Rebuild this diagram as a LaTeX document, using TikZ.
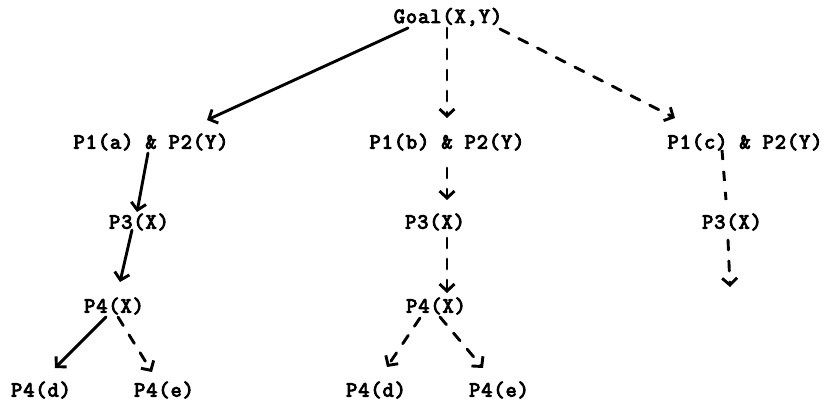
\documentclass[tikz,border=0pt]{standalone}
\usepackage{fontspec}
\usetikzlibrary{arrows.meta,calc}
\newfontfamily\treefont[LetterSpace=5, FakeBold=4.5]{Latin Modern Mono}
\tikzset{
  term/.style={font=\treefont\fontsize{21.5}{24}\selectfont, inner sep=1pt, text=black},
  solidarc/.style={draw=black, line width=2.9pt, line cap=round, -{Straight Barb[length=7pt,width=15pt,line width=2.9pt]}},
  dasharc/.style={solidarc, dash pattern=on 10pt off 11pt},
  dashplain/.style={draw=black, line width=2.9pt, dash pattern=on 10pt off 11pt}
}
\begin{document}
\begin{tikzpicture}[x=1pt,y=-1pt]
  \useasboundingbox (0,0) rectangle (824,401);
  % goal and its three alternative clauses
  \node[term] (g)  at (448,17)  {Goal(X,Y)};
  \node[term] (pa) at (151,142) {P1(a) \& P2(Y)};
  \node[term] (pb) at (447,142) {P1(b) \& P2(Y)};
  \node[term] (pc) at (745,142) {P1(c) \& P2(Y)};
  % second level
  \node[term] (p3a) at (139,222) {P3(X)};
  \node[term] (p3b) at (435,222) {P3(X)};
  \node[term] (p3c) at (732,222) {P3(X)};
  \node[term] (p4a) at (114,306) {P4(X)};
  \node[term] (p4b) at (436,306) {P4(X)};
  % leaves
  \node[term] (da) at (41,390)  {P4(d)};
  \node[term] (ea) at (164,390) {P4(e)};
  \node[term] (db) at (376,390) {P4(d)};
  \node[term] (eb) at (499,390) {P4(e)};
  \coordinate (open) at (730,287);

  % search arcs
  \draw[solidarc] ($(g)+(-40,11)$) -- ($(pa)+(56,-22)$);
  \draw[dasharc]  ($(g)+(-1,11)$)  -- ($(pb)+(0,-24)$);
  \draw[dasharc]  ($(g)+(52,12)$)  -- ($(pc)+(-70,-24)$);

  \draw[solidarc] ($(pa)+(-3,11)$)  -- ($(p3a)+(-2,-10)$);
  \draw[solidarc] ($(p3a)+(-7,8)$)  -- ($(p4a)+(6,-24)$);
  \draw[solidarc] ($(p4a)+(-8,11)$) -- ($(da)+(14,-22)$);
  \draw[dasharc]  ($(p4a)+(4,11)$)  -- ($(ea)+(-12,-18)$);

  \draw[dasharc]  ($(pb)+(0,26)$)   -- ($(p3b)+(12,-22)$);
  \draw[dasharc]  ($(p3b)+(12,16)$) -- ($(p4b)+(11,-13)$);
  \draw[dasharc]  ($(p4b)+(-16,12)$) -- ($(db)+(11,-23)$);
  \draw[dasharc]  ($(p4b)+(4,11)$)  -- ($(eb)+(-16,-22)$);

  \draw[dashplain] ($(pc)+(-23,8)$)  -- ($(p3c)+(-6,-22)$);
  \draw[dasharc]   ($(p3c)+(-4,18)$) -- (open);
\end{tikzpicture}
\end{document}
